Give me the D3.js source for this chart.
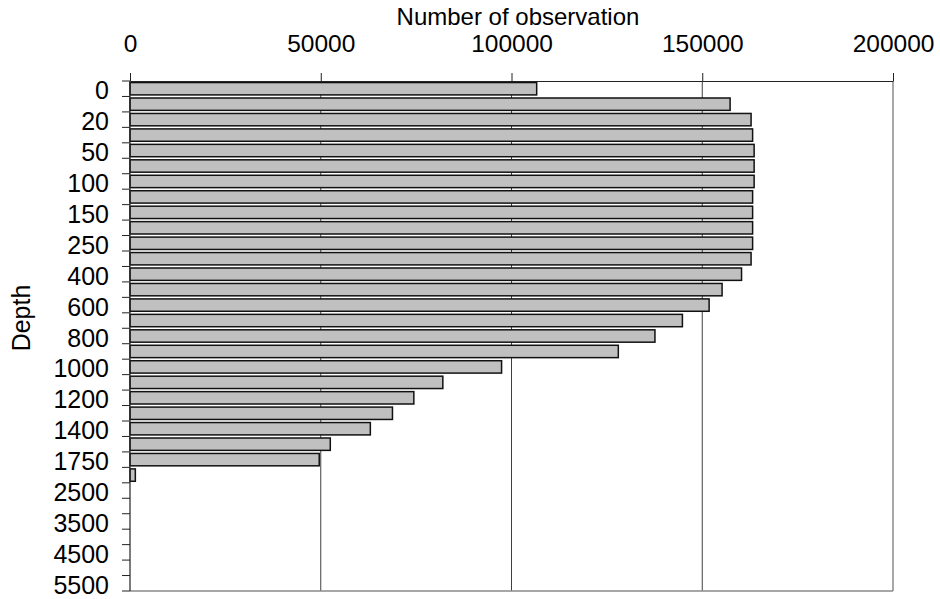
<!DOCTYPE html>
<html>
<head>
<meta charset="utf-8">
<script src="https://cdn.jsdelivr.net/npm/d3@7"></script>
<style>
  html, body { margin: 0; padding: 0; background: #fff; }
  svg { display: block; font-family: "Liberation Sans", Arial, sans-serif; }
</style>
</head>
<body>
<svg id="chart" width="940" height="599"></svg>
<script>
const depths = [0, 10, 20, 30, 50, 75, 100, 125, 150, 200, 250, 300, 400, 500, 600, 700, 800, 900,
  1000, 1100, 1200, 1300, 1400, 1500, 1750, 2000, 2500, 3000, 3500, 4000, 4500, 5000, 5500];
const observations = [106600, 157300, 162800, 163200, 163600, 163600, 163600, 163200, 163200, 163200,
  163200, 162800, 160300, 155200, 151800, 144800, 137600, 128000, 97400, 82000, 74400, 68800, 63000,
  52500, 49600, 1400, 0, 0, 0, 0, 0, 0, 0];
const xTicks = [0, 50000, 100000, 150000, 200000];
const xTitle = "Number of observation";
const yTitle = "Depth";

const svg = d3.select("#chart");
const mLeft = 130, mRight = 893, mTop = 81, mBottom = 591;

const x = d3.scaleLinear().domain([0, 200000]).range([mLeft, mRight]);
const y = d3.scaleBand().domain(depths.map(String)).range([mTop, mBottom]).paddingInner(0.2).paddingOuter(0.1);
const step = y.step();

// gridlines
svg.append("g").selectAll("line")
  .data(xTicks.filter(d => d > 0 && d < 200000))
  .join("line")
  .attr("x1", d => x(d)).attr("x2", d => x(d))
  .attr("y1", mTop).attr("y2", mBottom)
  .attr("stroke", "#404040").attr("stroke-width", 1);

// plot border right & bottom
svg.append("line").attr("x1", x(200000)).attr("x2", x(200000)).attr("y1", mTop).attr("y2", mBottom)
  .attr("stroke", "#8a8a8a").attr("stroke-width", 1.5);
svg.append("line").attr("x1", mLeft).attr("x2", x(200000)).attr("y1", mBottom).attr("y2", mBottom)
  .attr("stroke", "#8a8a8a").attr("stroke-width", 1.5);

// bars
svg.append("g").selectAll("rect")
  .data(depths.map((d, i) => ({ d: String(d), v: observations[i] })).filter(o => o.v > 0))
  .join("rect")
  .attr("x", x(0))
  .attr("y", o => y(o.d))
  .attr("width", o => x(o.v) - x(0))
  .attr("height", y.bandwidth())
  .attr("fill", "#c0c0c0")
  .attr("stroke", "#111")
  .attr("stroke-width", 1.5);

// top axis
const xAxis = d3.axisTop(x).tickValues(xTicks).tickSize(8).tickSizeOuter(0).tickFormat(d3.format("d"));
const gx = svg.append("g").attr("transform", `translate(0,${mTop})`).call(xAxis);
gx.select(".domain").attr("stroke", "#222").attr("stroke-width", 1.2);
gx.selectAll(".tick line").attr("stroke", "#222");
gx.selectAll(".tick text").attr("font-size", 24.5).attr("font-family", "Liberation Sans, Arial, sans-serif")
  .attr("fill", "#000").attr("y", -29).attr("dy", 0);

// left axis: line, boundary ticks, labels at every other category
svg.append("line").attr("x1", mLeft).attr("x2", mLeft).attr("y1", mTop).attr("y2", mBottom)
  .attr("stroke", "#222").attr("stroke-width", 1.2);
const boundaries = d3.range(depths.length + 1).map(i => mTop + i * step);
svg.append("g").selectAll("line").data(boundaries).join("line")
  .attr("x1", mLeft - 8).attr("x2", mLeft)
  .attr("y1", d => d).attr("y2", d => d)
  .attr("stroke", "#222").attr("stroke-width", 1);
const yAxis = d3.axisLeft(y).tickSize(0).tickPadding(21)
  .tickFormat((d, i) => i % 2 === 0 ? d : "");
const gy = svg.append("g").attr("transform", `translate(${mLeft},0)`).call(yAxis);
gy.select(".domain").remove();
gy.selectAll(".tick text").attr("font-size", 25).attr("font-family", "Liberation Sans, Arial, sans-serif")
  .attr("fill", "#000").attr("dy", "0.42em");

// titles
svg.append("text").attr("x", 518).attr("y", 25).attr("text-anchor", "middle")
  .attr("font-size", 24).text(xTitle);
svg.append("text").attr("transform", "translate(30,318) rotate(-90)").attr("text-anchor", "middle")
  .attr("font-size", 25).text(yTitle);
</script>
</body>
</html>
